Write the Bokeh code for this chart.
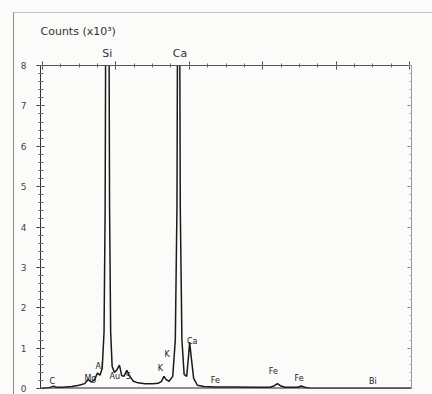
from bokeh.plotting import figure
from bokeh.models import (Range1d, LinearAxis, SingleIntervalTicker, FixedTicker, Label,
                          Span, ColumnDataSource, InlineStyleSheet)
from bokeh.embed import file_html
from bokeh.resources import INLINE

# Energy (keV) and counts (x10^3)
energy = [0.00, 0.15, 0.25, 0.30, 0.38, 0.55, 0.80, 1.00, 1.15, 1.25, 1.33, 1.42,
          1.50, 1.57, 1.63, 1.68, 1.71, 1.725, 1.77, 1.815, 1.83, 1.86, 1.90,
          1.96, 2.02, 2.10, 2.16, 2.22, 2.30, 2.38, 2.48, 2.60, 2.80, 3.00, 3.15,
          3.24, 3.31, 3.37, 3.45, 3.55, 3.62, 3.665, 3.68, 3.71, 3.74, 3.755,
          3.80, 3.86, 3.93, 3.98, 4.01, 4.05, 4.12, 4.22, 4.40, 4.70, 5.20, 5.80,
          6.20, 6.32, 6.40, 6.48, 6.60, 6.95, 7.05, 7.14, 7.30, 8.00, 9.00, 10.10]
counts = [0.00, 0.01, 0.04, 0.06, 0.03, 0.03, 0.05, 0.08, 0.12, 0.22, 0.16, 0.22,
          0.38, 0.33, 0.50, 1.40, 4.50, 9.00, 12.0, 9.00, 4.50, 1.40, 0.55,
          0.40, 0.45, 0.58, 0.32, 0.30, 0.45, 0.30, 0.18, 0.14, 0.12, 0.12, 0.13,
          0.17, 0.30, 0.22, 0.18, 0.30, 1.20, 4.50, 9.00, 12.0, 9.00, 4.50,
          1.20, 0.35, 0.30, 0.80, 1.15, 0.80, 0.25, 0.08, 0.05, 0.04, 0.04, 0.03,
          0.03, 0.07, 0.12, 0.07, 0.03, 0.03, 0.06, 0.03, 0.00, 0.00, 0.00, 0.00]

# Peak labels: text, energy, height
peak_names = ["C", "Mg", "Al", "Au", "S", "K", "K", "Ca", "Fe", "Fe", "Fe", "Bi"]
peak_x = [0.27, 1.31, 1.55, 1.97, 2.34, 3.21, 3.40, 4.08, 4.71, 6.29, 6.99, 9.00]
peak_y = [0.17, 0.25, 0.54, 0.30, 0.30, 0.50, 0.84, 1.16, 0.20, 0.42, 0.25, 0.17]

top_names = ["Si", "Ca"]
top_x = [1.77, 3.75]

y_title = "Counts (x10³)"

BG = "#fbfbf9"

p = figure(width=432, height=394, output_backend="svg", toolbar_location=None,
           x_range=Range1d(-0.05, 10.05), y_range=Range1d(0, 8),
           x_axis_location="above", y_axis_location="left",
           min_border_left=40, min_border_right=21, min_border_top=65,
           min_border_bottom=6, background_fill_color=BG, border_fill_color=BG,
           outline_line_color=None, title=y_title)
p.grid.visible = False

p.title.text_font = "DejaVu Sans"
p.title.text_font_size = "11px"
p.title.text_font_style = "normal"
p.title.text_color = "#333333"
p.title.align = "left"
p.title.standoff = 12

# outer frame drawn with CSS (left and top rules of the scanned figure box)
p.stylesheets = [InlineStyleSheet(css="""
:host { position: relative; }
:host::after { content: ""; position: absolute; left: 13px; top: 12px;
  right: -20px; bottom: -20px; border-left: 1px solid #8c8c8c;
  border-top: 1px solid #b9c9c9; pointer-events: none; }
""")]

# top axis (ticks only)
xa = p.xaxis[0]
xa.ticker = SingleIntervalTicker(interval=2, num_minor_ticks=4)
xa.major_label_text_font_size = "1px"
xa.major_label_text_color = None
xa.major_label_standoff = 0
xa.axis_line_color = "#555555"
xa.major_tick_line_color = "#444444"
xa.minor_tick_line_color = "#666666"
xa.major_tick_in = 4
xa.major_tick_out = 4
xa.minor_tick_in = 2
xa.minor_tick_out = 2

# top element labels
ta = LinearAxis(ticker=FixedTicker(ticks=top_x, minor_ticks=[]),
                major_label_overrides={x: t for x, t in zip(top_x, top_names)})
ta.axis_line_color = None
ta.major_tick_line_color = None
ta.minor_tick_line_color = None
ta.major_tick_out = 0
ta.major_tick_in = 0
ta.major_label_standoff = 2
ta.major_label_text_font = "DejaVu Sans"
ta.major_label_text_font_size = "11px"
ta.major_label_text_color = "#333333"
p.add_layout(ta, "above")

# left axis
ya = p.yaxis[0]
ya.ticker = SingleIntervalTicker(interval=1, num_minor_ticks=5)
ya.axis_line_color = "#333333"
ya.major_tick_line_color = "#333333"
ya.minor_tick_line_color = "#666666"
ya.major_tick_in = 4
ya.major_tick_out = 4
ya.minor_tick_in = 3
ya.minor_tick_out = 2
ya.major_label_standoff = 10
ya.major_label_text_font = "DejaVu Sans"
ya.major_label_text_font_size = "9px"
ya.major_label_text_color = "#444444"

# right axis (ticks only)
ra = LinearAxis(ticker=SingleIntervalTicker(interval=1, num_minor_ticks=5))
ra.major_label_text_font_size = "1px"
ra.major_label_text_color = None
ra.major_label_standoff = 0
ra.axis_line_color = "#9a9a9a"
ra.major_tick_line_color = "#777777"
ra.minor_tick_line_color = "#aaaaaa"
ra.major_tick_in = 4
ra.major_tick_out = 0
ra.minor_tick_in = 2
ra.minor_tick_out = 0
p.add_layout(ra, "right")

# spectrum
src = ColumnDataSource(dict(e=energy, c=counts))
p.line("e", "c", source=src, line_color="#1a1a1a", line_width=1.5)

# bottom axis line
p.add_layout(Span(location=0, dimension="width", line_color="#222222", line_width=2))

# peak labels
for t, x, y in zip(peak_names, peak_x, peak_y):
    p.add_layout(Label(x=x, y=y, text=t, text_font="DejaVu Sans",
                       text_font_size="8px", text_color="#222222",
                       text_align="center", text_baseline="middle"))

open("out.html", "w").write(file_html(p, INLINE))
